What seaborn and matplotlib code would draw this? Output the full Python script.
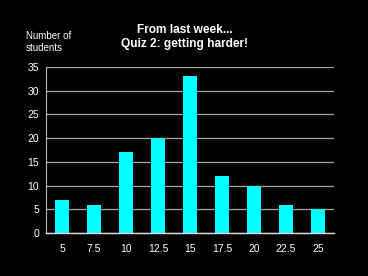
import matplotlib
matplotlib.use("Agg")
import matplotlib.pyplot as plt
import seaborn as sns
import pandas as pd

categories = ["5", "7.5", "10", "12.5", "15", "17.5", "20", "22.5", "25"]
students = [7, 6, 17, 20, 33, 12, 10, 6, 5]

sns.set_style("dark")
plt.rcParams["font.family"] = ["Liberation Sans", "DejaVu Sans"]

df = pd.DataFrame({"score": categories, "n": students})

fig = plt.figure(figsize=(3.68, 2.76), dpi=100, facecolor="black")
ax = fig.add_axes([46/368, 1 - 233/276, 288/368, 166/276])
ax.set_facecolor("black")
sns.barplot(data=df, x="score", y="n", color="#00FFFF", saturation=1, width=0.44,
            edgecolor="none", linewidth=0, ax=ax)
ax.set_ylim(0, 35)
ax.set_yticks(range(0, 36, 5))
ax.set_xlim(-0.5, len(categories) - 0.5)
ax.yaxis.grid(True, color="#a8a8a8", linewidth=0.9)
ax.xaxis.grid(False)
ax.set_axisbelow(True)
for s in ["top", "right"]:
    ax.spines[s].set_visible(False)
ax.spines["left"].set_visible(True)
ax.spines["left"].set_color("#bbbbbb")
ax.spines["bottom"].set_visible(True)
ax.spines["bottom"].set_color("#dddddd")
ax.spines["bottom"].set_linewidth(1.0)
ax.tick_params(colors="white", labelsize=7.5, length=0, pad=5)
ax.tick_params(axis="x", pad=8)
ax.set_xlabel("")
ax.set_ylabel("")

fig.text(185/368, 1 - 37/276, "From last week...\nQuiz 2: getting harder!", ha="center", va="center",
         color="white", fontsize=8.6, fontweight="bold", linespacing=1.15)
fig.text(26/368, 1 - 42/276, "Number of\nstudents", ha="left", va="center",
         color="white", fontsize=7, linespacing=1.15)

fig.savefig("out.png", dpi=100, facecolor="black")
